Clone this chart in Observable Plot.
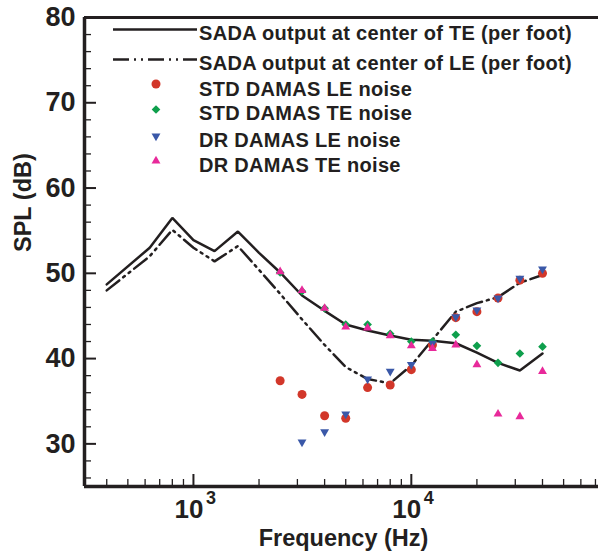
<!DOCTYPE html>
<html><head><meta charset="utf-8">
<script src="https://cdn.jsdelivr.net/npm/d3@7"></script>
<script src="https://cdn.jsdelivr.net/npm/@observablehq/plot@0.6"></script>
<style>
body{margin:0;background:#fff;}
svg{font-family:"Liberation Sans",Arial,sans-serif;}
</style>
</head><body><div id="chart"></div>
<script>
// SADA predictions (per foot), 1/3-octave band centres
const lineFreq = [400, 630, 800, 1000, 1250, 1600, 2000, 2500, 3150, 4000, 5000, 6300, 8000, 10000, 12500, 16000, 20000, 25000, 31500, 40000];
const sadaTE  = [48.7, 53.0, 56.5, 53.9, 52.6, 54.9, 52.4, 50.1, 47.4, 45.6, 44.0, 43.3, 42.7, 42.2, 42.1, 41.8, 40.7, 39.5, 38.6, 40.6];
const sadaLE  = [48.0, 52.0, 55.1, 53.0, 51.4, 53.2, 50.4, 47.6, 44.6, 41.6, 39.0, 37.6, 37.1, 39.2, 42.2, 45.5, 46.5, 47.2, 48.9, 49.8];

// DAMAS results
const stdFreq = [2500, 3150, 4000, 5000, 6300, 8000, 10000, 12500, 16000, 20000, 25000, 31500, 40000];
const stdLE   = [37.4, 35.8, 33.3, 33.0, 36.6, 36.9, 38.7, 41.6, 44.8, 45.5, 47.1, 49.2, 50.0];
const stdTE   = [50.1, 47.9, 45.9, 44.0, 44.0, 42.9, 42.0, 42.0, 42.8, 41.5, 39.5, 40.6, 41.4];
const drLEFreq = [3150, 4000, 5000, 6300, 8000, 10000, 12500, 16000, 20000, 25000, 31500, 40000];
const drLE    = [30.2, 31.4, 33.5, 37.6, 38.5, 39.3, 41.8, 44.9, 45.7, 47.1, 49.4, 50.5];
const drTEFreq = [2500, 3150, 4000, 5000, 6300, 8000, 10000, 12500, 16000, 20000, 25000, 31500, 40000];
const drTE    = [50.2, 48.0, 45.9, 43.7, 43.6, 42.7, 41.5, 41.2, 41.6, 39.3, 33.5, 33.2, 38.5];

const legendLabels = [
  "SADA output at center of TE (per foot)",
  "SADA output at center of LE (per foot)",
  "STD DAMAS LE noise",
  "STD DAMAS TE noise",
  "DR DAMAS LE noise",
  "DR DAMAS TE noise"
];

// axis ticks
const yMajor = [30, 40, 50, 60, 70, 80];
const yMinor = [26, 28, 32, 34, 36, 38, 42, 44, 46, 48, 52, 54, 56, 58, 62, 64, 66, 68, 72, 74, 76, 78];
const xMajor = [1000, 10000];
const xMinor = [400, 500, 600, 700, 800, 900, 2000, 3000, 4000, 5000, 6000, 7000, 8000, 9000, 20000, 30000, 40000, 50000, 60000, 70000, 80000, 90000];

const ink = "#231f20";
const colors = {red: "#d2372a", green: "#0e9f4c", blue: "#3a58a8", pink: "#e8299a"};
const dashDot = "16,5,2,5,2,5";

const triangleDown = {
  draw(context, size) {
    const y = -Math.sqrt(size / (Math.sqrt(3) * 3));
    context.moveTo(0, -y * 2);
    context.lineTo(-Math.sqrt(3) * y, y);
    context.lineTo(Math.sqrt(3) * y, y);
    context.closePath();
  }
};

const lineTE = lineFreq.map((f, i) => ({f, v: sadaTE[i]}));
const lineLE = lineFreq.map((f, i) => ({f, v: sadaLE[i]}));
const ptsStdLE = stdFreq.map((f, i) => ({f, v: stdLE[i]}));
const ptsStdTE = stdFreq.map((f, i) => ({f, v: stdTE[i]}));
const ptsDrLE = drLEFreq.map((f, i) => ({f, v: drLE[i]}));
const ptsDrTE = drTEFreq.map((f, i) => ({f, v: drTE[i]}));

const W = 598, H = 554, mL = 84, mT = 17, mB = 68;
const frameW = W - mL, frameH = H - mT - mB;
const rCircle = 4.5, rDiamond = 3.9, rTri = 3.3;

const plot = Plot.plot({
  width: W, height: H,
  marginLeft: mL, marginRight: 0, marginTop: mT, marginBottom: mB,
  style: {background: "white", color: ink, fontFamily: '"Liberation Sans", Arial, sans-serif'},
  x: {type: "log", domain: [10 ** 2.5, 1e5], range: [mL, 628.7]},
  y: {domain: [25, 80]},
  marks: [
    // inward ticks
    Plot.tickY(yMajor, {y: d => d, insetRight: frameW - 12, stroke: ink, strokeWidth: 2}),
    Plot.tickY(yMinor, {y: d => d, insetRight: frameW - 7, stroke: ink, strokeWidth: 1.3}),
    Plot.tickX(xMajor, {x: d => d, insetTop: frameH - 12, stroke: ink, strokeWidth: 2}),
    Plot.tickX(xMinor, {x: d => d, insetTop: frameH - 7, stroke: ink, strokeWidth: 1.3}),
    // frame lines
    Plot.ruleX([10 ** 2.5], {stroke: ink, strokeWidth: 3.5}),
    Plot.ruleY([25], {stroke: ink, strokeWidth: 3.5}),
    Plot.ruleY([80], {stroke: ink, strokeWidth: 3}),
    // axes labels
    Plot.axisY({ticks: yMajor, tickSize: 0, tickPadding: 9, fontSize: 27, fontWeight: "bold", label: null}),
    Plot.axisX({ticks: xMajor, tickFormat: () => "10", tickSize: 0, tickPadding: 13.5, dx: -4.5, fontSize: 26, fontWeight: "bold", label: null}),
    Plot.text(xMajor, {x: d => d, frameAnchor: "bottom", text: d => String(Math.round(Math.log10(d))), dx: 17.5, dy: 17, lineAnchor: "bottom", fontSize: 18, fontWeight: "bold", fill: ink}),
    Plot.text(["Frequency (Hz)"], {frameAnchor: "bottom", dx: 2, dy: 59, lineAnchor: "bottom", fontSize: 23.5, fontWeight: "bold", fill: ink}),
    Plot.text(["SPL (dB)"], {frameAnchor: "left", dx: -61, rotate: -90, fontSize: 23.5, fontWeight: "bold", fill: ink}),
    // SADA lines
    Plot.line(lineTE, {x: "f", y: "v", stroke: ink, strokeWidth: 2.5, strokeLinejoin: "miter"}),
    Plot.line(lineLE, {x: "f", y: "v", stroke: ink, strokeWidth: 2.5, strokeDasharray: dashDot, strokeLinejoin: "miter"}),
    // DAMAS markers
    Plot.dot(ptsStdLE, {x: "f", y: "v", symbol: "circle", r: rCircle, fill: colors.red, stroke: "none"}),
    Plot.dot(ptsStdTE, {x: "f", y: "v", symbol: "diamond2", r: rDiamond, fill: colors.green, stroke: "none"}),
    Plot.dot(ptsDrLE, {x: "f", y: "v", symbol: triangleDown, r: rTri, fill: colors.blue, stroke: "none"}),
    Plot.dot(ptsDrTE, {x: "f", y: "v", symbol: "triangle", r: rTri, fill: colors.pink, stroke: "none"})
  ]
});

document.getElementById("chart").appendChild(plot);

// legend (inside the frame, top)
const svg = d3.select(plot);
const lg = svg.append("g").attr("text-anchor", "start");
const rowsText = [40, 70, 96, 119.5, 146.5, 171.5];
const lineRows = [29.5, 59.5];
lg.append("line").attr("x1", 113).attr("x2", 197).attr("y1", lineRows[0]).attr("y2", lineRows[0])
  .attr("stroke", ink).attr("stroke-width", 2.5);
lg.append("line").attr("x1", 113).attr("x2", 197).attr("y1", lineRows[1]).attr("y2", lineRows[1])
  .attr("stroke", ink).attr("stroke-width", 2.5).attr("stroke-dasharray", dashDot);
const markerRows = [
  {y: 84, sym: d3.symbolCircle, r: rCircle, c: colors.red},
  {y: 109.5, sym: d3.symbolDiamond2, r: rDiamond, c: colors.green},
  {y: 136, sym: triangleDown, r: rTri, c: colors.blue},
  {y: 161, sym: d3.symbolTriangle, r: rTri, c: colors.pink}
];
markerRows.forEach(m => {
  lg.append("path").attr("transform", `translate(156,${m.y})`)
    .attr("d", d3.symbol(m.sym, Math.PI * m.r * m.r)()).attr("fill", m.c);
});
legendLabels.forEach((t, i) => {
  lg.append("text").attr("x", 199).attr("y", rowsText[i]).text(t)
    .attr("text-anchor", "start")
    .attr("font-size", 20).attr("font-weight", "bold").attr("letter-spacing", "0.3px")
    .attr("fill", ink);
});
</script>
</body></html>
